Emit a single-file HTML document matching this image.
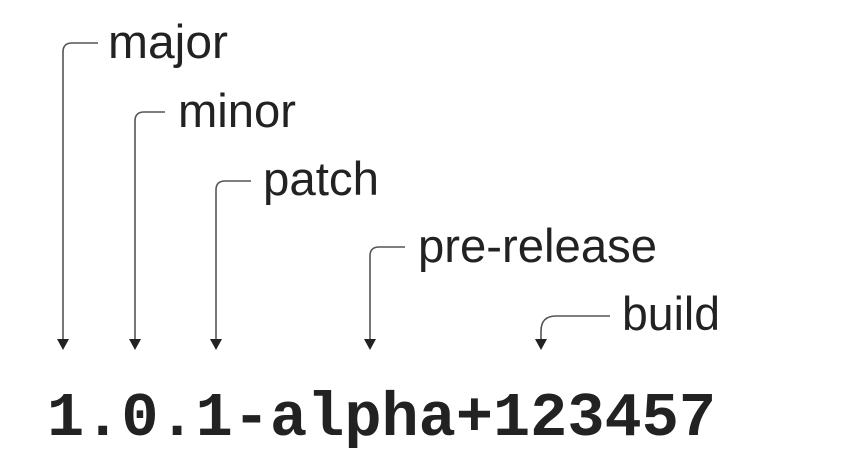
<!DOCTYPE html>
<html><head><style>
html,body{margin:0;padding:0;background:#fff;}
svg{display:block;}
</style></head><body>
<svg width="859" height="469" viewBox="0 0 859 469" xmlns="http://www.w3.org/2000/svg">
<g fill="none" stroke="#555" stroke-width="1.6">
<path d="M98 43 H72 Q63 43 63 52 V340"/>
<path d="M165 112 H144 Q135 112 135 121 V340"/>
<path d="M251 181 H225 Q216 181 216 190 V340"/>
<path d="M405 247 H379 Q370 247 370 256 V340"/>
<path d="M610 316 H556 Q541 316 541 331 V340"/>
</g>
<g fill="#222">
<polygon points="57,339 69,339 63,350"/>
<polygon points="129,339 141,339 135,350"/>
<polygon points="210,339 222,339 216,350"/>
<polygon points="364,339 376,339 370,350"/>
<polygon points="535,339 547,339 541,350"/>
</g>
<g font-family="Liberation Sans, sans-serif" font-size="47" fill="#222" lengthAdjust="spacingAndGlyphs">
<text x="108" y="58" textLength="120" lengthAdjust="spacingAndGlyphs">major</text>
<text x="178" y="127" textLength="118" lengthAdjust="spacingAndGlyphs">minor</text>
<text x="263" y="195" textLength="116" lengthAdjust="spacingAndGlyphs">patch</text>
<text x="418" y="262" textLength="239" lengthAdjust="spacingAndGlyphs">pre-release</text>
<text x="622" y="330" textLength="98" lengthAdjust="spacingAndGlyphs">build</text>
</g>
<text x="47" y="435" font-family="Liberation Mono, monospace" font-weight="bold" font-size="62" fill="#222" textLength="669" lengthAdjust="spacingAndGlyphs">1.0.1-alpha+123457</text>
</svg>
</body></html>
